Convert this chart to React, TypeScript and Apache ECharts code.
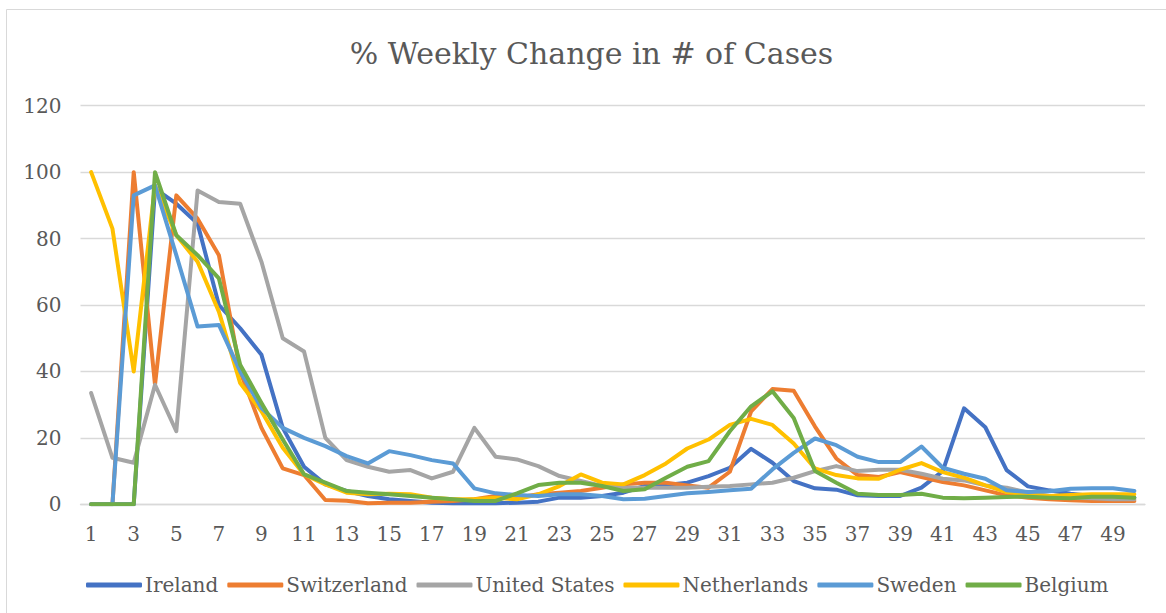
import React, { useEffect, useRef } from "react";
import * as echarts from "echarts";

const categories: string[] = Array.from({ length: 50 }, (_, i) => String(i + 1));

const ireland = [0, 0, 0, 95, 90.5, 84.5, 60, 53, 45, 23, 11.3, 6, 4, 2.5, 1.5, 1, 0.5, 0.3, 0.3, 0.3, 0.5, 0.8, 2, 2, 2.5, 3.5, 5.5, 5.8, 6.5, 8.5, 11, 16.7, 12.5, 7, 4.8, 4.4, 2.7, 2.5, 2.5, 5, 10, 28.9, 23.2, 10.3, 5.4, 4.2, 3.2, 2.5, 2.5, 2];
const switzerland = [0, 0, 100, 36, 93, 86, 75, 40, 23, 10.8, 8.8, 1.3, 1.1, 0.3, 0.5, 0.5, 0.8, 1, 1.5, 2.5, 2, 3, 3.5, 4, 5, 6, 6.5, 6.5, 5.7, 5, 9.8, 28, 34.7, 34.2, 23.4, 13.8, 8.8, 8.2, 9.7, 8.2, 6.7, 5.7, 4.2, 2.7, 2, 1.5, 1.2, 1, 1, 1];
const unitedStates = [33.5, 14, 12.5, 36, 22, 94.5, 91, 90.5, 73, 50, 46, 20, 13.3, 11.3, 9.8, 10.3, 7.8, 9.8, 23, 14.3, 13.5, 11.5, 8.5, 7, 5.5, 5, 5, 5, 5, 5.3, 5.5, 6, 6.5, 8, 10, 11.5, 10, 10.4, 10.4, 9.2, 7.7, 7.2, 5.7, 5, 3.5, 2.5, 2, 1.8, 1.5, 1.5];
const netherlands = [100, 83, 40, 96, 81, 73, 58, 36.5, 28, 17, 9, 6, 3.5, 3, 3.2, 3, 2, 1.5, 1.5, 2, 1.5, 3, 5.5, 9, 6.5, 6, 8.8, 12.3, 16.8, 19.5, 23.9, 25.7, 23.9, 18.3, 10.8, 8.8, 7.8, 7.7, 10.4, 12.4, 9.7, 8, 5.7, 3.7, 3, 2.5, 2.8, 3, 3, 3];
const sweden = [0, 0, 93, 96, 75, 53.5, 54, 40, 29, 23, 20, 17.5, 14.5, 12.3, 16, 14.8, 13.3, 12.3, 4.8, 3.3, 2.8, 2.5, 3, 3, 2.5, 1.5, 1.7, 2.5, 3.3, 3.7, 4.2, 4.7, 10.5, 15.5, 19.8, 17.8, 14.3, 12.7, 12.7, 17.4, 11, 9.2, 7.7, 4.2, 3.7, 3.9, 4.7, 4.8, 4.8, 4];
const belgium = [0, 0, 0, 100, 81, 75, 68, 42, 30.5, 19.5, 9, 6.5, 4, 3.5, 3, 2.5, 2, 1.5, 1, 1, 3.3, 5.8, 6.5, 6.5, 5.5, 4, 4.5, 8, 11.3, 13, 22, 29.5, 34, 26, 10, 6.5, 3.2, 2.8, 2.8, 3.2, 2, 1.8, 2, 2.2, 2.3, 2, 1.8, 2.3, 2.3, 2];

const seriesNames = ["Ireland", "Switzerland", "United States", "Netherlands", "Sweden", "Belgium"];
const seriesData = [ireland, switzerland, unitedStates, netherlands, sweden, belgium];
const seriesColors = ["#4472C4", "#ED7D31", "#A5A5A5", "#FFC000", "#5B9BD5", "#70AD47"];

const yTicks = { min: 0, max: 120, interval: 20 };
const titleText = "% Weekly Change in # of Cases";

const FONT = "DejaVu Serif";
const TEXT_COLOR = "#595959";
const GRID_COLOR = "#D9D9D9";

export default function App() {
  const ref = useRef<HTMLDivElement>(null);

  useEffect(() => {
    if (!ref.current) return;
    const chart = echarts.init(ref.current, undefined, { renderer: "svg" });
    chart.setOption({
      animation: false,
      backgroundColor: "#ffffff",
      textStyle: { fontFamily: FONT },
      graphic: [
        {
          type: "rect",
          shape: { x: 6.5, y: 9.5, width: 1400, height: 800 },
          style: { fill: "none", stroke: GRID_COLOR, lineWidth: 1 },
          silent: true,
        },
        {
          type: "text",
          x: 591.5,
          y: 53.5,
          style: {
            text: titleText,
            fontSize: 30,
            fontFamily: FONT,
            fill: TEXT_COLOR,
            textAlign: "center",
            textVerticalAlign: "middle",
          },
        },
      ],
      grid: { left: 80.5, right: 21, top: 105.7, bottom: 108.7, containLabel: false },
      legend: {
        left: 81,
        top: 570,
        icon: "roundRect",
        itemWidth: 56,
        itemHeight: 5,
        itemGap: 9,
        data: seriesNames,
        textStyle: { fontSize: 20, fontFamily: FONT, color: TEXT_COLOR, padding: [0, 0, 0, -2] },
      },
      xAxis: {
        type: "category",
        data: categories,
        boundaryGap: true,
        axisTick: { show: false },
        axisLine: { lineStyle: { color: GRID_COLOR, width: 1.3 } },
        axisLabel: { interval: 1, fontSize: 20, fontFamily: FONT, color: TEXT_COLOR, margin: 20 },
        splitLine: { show: false },
      },
      yAxis: {
        type: "value",
        min: yTicks.min,
        max: yTicks.max,
        interval: yTicks.interval,
        axisLine: { show: false },
        axisTick: { show: false },
        axisLabel: { fontSize: 20, fontFamily: FONT, color: TEXT_COLOR, margin: 19 },
        splitLine: { lineStyle: { color: GRID_COLOR, width: 1.3 } },
      },
      series: seriesNames.map((name, i) => ({
        name,
        type: "line",
        data: seriesData[i],
        showSymbol: false,
        symbol: "none",
        color: seriesColors[i],
        lineStyle: { width: 4, color: seriesColors[i], cap: "round", join: "round" },
        itemStyle: { color: seriesColors[i] },
      })),
    });
    return () => chart.dispose();
  }, []);

  return (
    <div
      ref={ref}
      style={{ position: "absolute", left: 0, top: 0, width: 1166, height: 613 }}
    />
  );
}
